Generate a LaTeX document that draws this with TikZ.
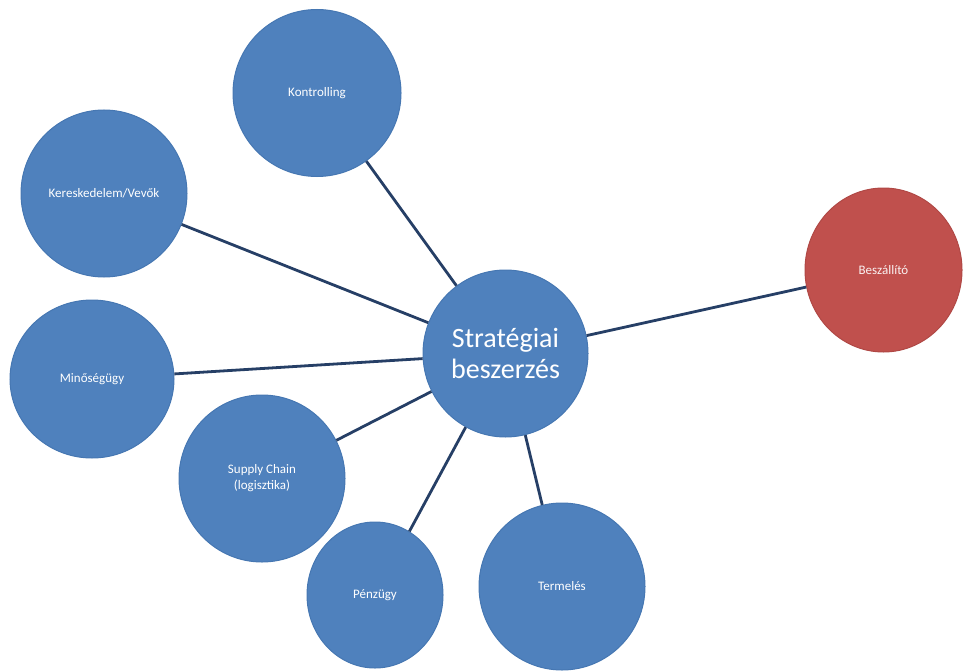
\documentclass[tikz,border=0pt]{standalone}
\usepackage{fontspec}
\setmainfont{Carlito}
\usetikzlibrary{shapes.geometric}
\definecolor{bubble}{HTML}{4F81BD}
\definecolor{bubbleedge}{HTML}{4677B2}
\definecolor{supplier}{HTML}{C0504D}
\definecolor{supplieredge}{HTML}{B04845}
\definecolor{link}{HTML}{263F66}
\begin{document}
\begin{tikzpicture}[x=1pt,y=-1pt,
  bubblenode/.style={ellipse, fill=bubble, draw=bubbleedge, line width=1pt,
    inner sep=0pt, text=white, align=center,
    font=\fontsize{13}{16}\selectfont},
  hubnode/.style={bubblenode, font=\fontsize{28}{31}\selectfont},
  suppliernode/.style={bubblenode, fill=supplier, draw=supplieredge,
    text=white!92!supplier},
  linkline/.style={draw=link, line width=2.8pt}]
  \useasboundingbox (0,0) rectangle (965,671);

  \node[hubnode, minimum width=165, minimum height=167] (hub) at (505.5,353.5)
    {Stratégiai\\beszerzés};
  \node[bubblenode, minimum width=168, minimum height=167] (kontr) at (317,93) {Kontrolling};
  \node[bubblenode, minimum width=166, minimum height=167] (keresk) at (104,193.5) {Kereskedelem/Vevők};
  \node[bubblenode, minimum width=164, minimum height=158] (minoseg) at (92,379) {Minőségügy};
  \node[bubblenode, minimum width=166, minimum height=167] (supply) at (262,478.5) {Supply Chain\\(logisztika)};
  \node[bubblenode, minimum width=136, minimum height=146] (penz) at (375,595) {Pénzügy};
  \node[bubblenode, minimum width=166, minimum height=167] (termel) at (562,586.5) {Termelés};
  \node[suppliernode, minimum width=157, minimum height=164] (beszall) at (883.5,270) {Beszállító};

  \foreach \n in {kontr,keresk,minoseg,supply,penz,termel,beszall}
    \draw[linkline] (\n) -- (hub);
\end{tikzpicture}
\end{document}
